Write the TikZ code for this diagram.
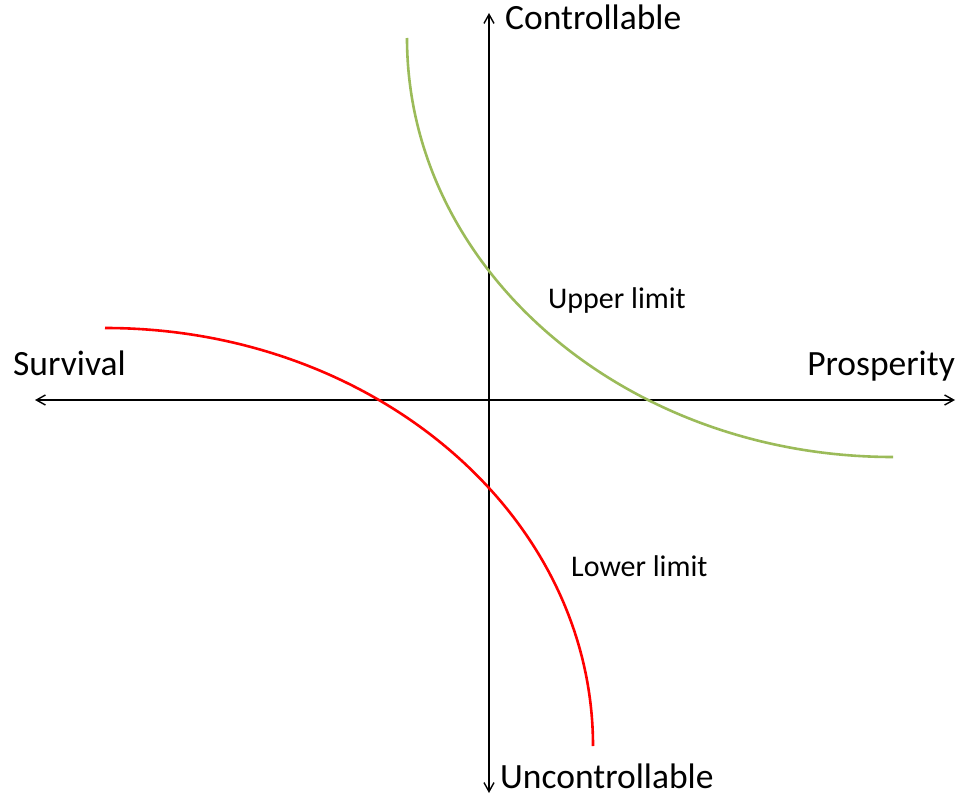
\documentclass[tikz,border=0pt]{standalone}
\usepackage{fontspec}
\setmainfont{Carlito}
\usetikzlibrary{arrows.meta}
\usetikzlibrary{positioning}

\definecolor{uppergreen}{RGB}{155,187,89}
\definecolor{lowerred}{RGB}{255,0,0}

\begin{document}
\begin{tikzpicture}[x=1pt, y=-1pt,
    axis/.style={draw=black, line width=1.4pt, {Straight Barb[length=9pt,width=10pt]}-{Straight Barb[length=9pt,width=10pt]}},
    limit/.style={line width=2.6pt},
    biglabel/.style={inner sep=0pt, font=\fontsize{35.5}{42}\selectfont},
    smalllabel/.style={inner sep=0pt, font=\fontsize{30}{36}\selectfont}]

        \useasboundingbox (0,0) rectangle (962,797);

        % Axis end points
        \coordinate (north) at (489, 13);
        \coordinate (south) at (489, 793);
        \coordinate (west) at (35, 400);
        \coordinate (east) at (955, 400);

        % Axes
        \draw[axis] (south) -- (north);
        \draw[axis] (west) -- (east);

        % Axis labels
        \node[biglabel, anchor=base west] (ctrl) at (505, 30) {Controllable};
        \node[biglabel, anchor=base west] (unctrl) at (500, 788) {Uncontrollable};
        \node[biglabel, anchor=base west] (surv) at (13, 375) {Survival};
        \node[biglabel, anchor=base east] (prosp) at (955, 375) {Prosperity};

        % Upper limit (quarter ellipse)
        \coordinate (u1) at (407, 38);
        \coordinate (u2) at (893, 457);
        \draw[limit, uppergreen] (u1) .. controls (407, 269.4) and (624.6, 457) .. (u2);
        \node[smalllabel, anchor=base west] (upper) at (548, 308) {Upper limit};

        % Lower limit (quarter ellipse)
        \coordinate (l1) at (105, 328);
        \coordinate (l2) at (593, 746);
        \draw[limit, lowerred] (l1) .. controls (374.5, 328) and (593, 515.1) .. (l2);
        \node[smalllabel, anchor=base west] (lower) at (571, 576) {Lower limit};

\end{tikzpicture}
\end{document}
